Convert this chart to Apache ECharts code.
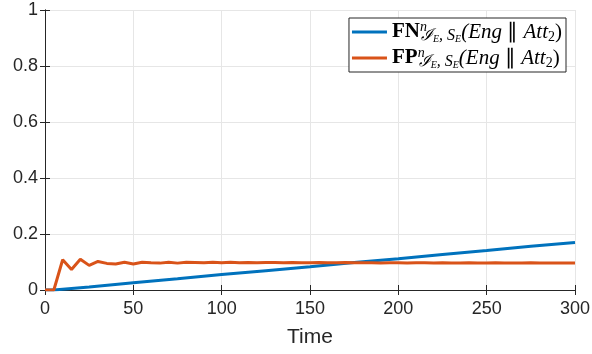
<!DOCTYPE html>
<html>
<head>
<meta charset="utf-8">
<script src="https://cdn.jsdelivr.net/npm/echarts@6/dist/echarts.min.js"></script>
<style>
  html, body { margin: 0; padding: 0; background: #fff; }
  #chart { width: 592px; height: 354px; }
</style>
</head>
<body>
<div id="chart"></div>
<script>
// sample times of the red (FP) curve, every 5 time units
const fpTime = [
  0, 5, 10, 15, 20, 25, 30, 35, 40, 45, 50, 55, 60, 65, 70, 75, 80, 85, 90, 95,
  100, 105, 110, 115, 120, 125, 130, 135, 140, 145, 150, 155, 160, 165, 170, 175,
  180, 185, 190, 195, 200, 205, 210, 215, 220, 225, 230, 235, 240, 245, 250, 255,
  260, 265, 270, 275, 280, 285, 290, 295, 300
];
const fpValues = [
  0, 0, 0.108, 0.073, 0.110, 0.088, 0.102, 0.095, 0.093, 0.099, 0.093, 0.099,
  0.097, 0.096, 0.099, 0.096, 0.099, 0.098, 0.097, 0.099, 0.097, 0.099, 0.097,
  0.098, 0.097, 0.098, 0.098, 0.097, 0.098, 0.097, 0.097, 0.098, 0.097, 0.097,
  0.098, 0.097, 0.097, 0.097, 0.096, 0.097, 0.097, 0.096, 0.097, 0.097, 0.096,
  0.097, 0.096, 0.096, 0.097, 0.096, 0.096, 0.097, 0.096, 0.096, 0.096, 0.097,
  0.096, 0.096, 0.096, 0.096, 0.096
];

// blue (FN) curve, nearly a straight ramp
const fnTime = [0, 5, 25, 50, 75, 100, 125, 150, 175, 200, 225, 250, 275, 300];
const fnValues = [0, 0, 0.011, 0.026, 0.040, 0.055, 0.069, 0.083, 0.098, 0.112, 0.127, 0.141, 0.156, 0.170];

const xTicks = { min: 0, max: 300, interval: 50 };
const yTicks = { min: 0, max: 1, interval: 0.2 };

const axisColor = "#262626";
const gridColor = "#e6e6e6";
const labelFont = "Liberation Sans";
const serif = "Liberation Serif";

const legendRich = {
  b: { fontFamily: serif, fontWeight: "bold", fontSize: 21, color: "#000", lineHeight: 24 },
  sup: { fontFamily: serif, fontStyle: "italic", fontSize: 14, color: "#000", verticalAlign: "top", lineHeight: 24, width: 1 },
  sub: { fontFamily: serif, fontStyle: "italic", fontSize: 16, color: "#000", verticalAlign: "bottom", lineHeight: 21 },
  subsub: { fontFamily: serif, fontStyle: "italic", fontSize: 10, color: "#000", verticalAlign: "bottom", lineHeight: 18 },
  it: { fontFamily: serif, fontStyle: "italic", fontSize: 21, color: "#000", lineHeight: 24 },
  n: { fontFamily: serif, fontSize: 21, color: "#000", lineHeight: 24 },
  s2: { fontFamily: serif, fontSize: 14, color: "#000", verticalAlign: "bottom", lineHeight: 21 }
};

function legendLabel(name) {
  const tail = "{sup|n}{sub|\u2110}{subsub|E}{sub|, S}{subsub|E}{it|(Eng}{n| \u2225 }{it|Att}{s2|2}{n|)}";
  return "{b|" + name + "}" + tail;
}

const chart = echarts.init(document.getElementById("chart"));
chart.setOption({
  animation: false,
  grid: { left: 45, right: 17, top: 10, bottom: 64, outerBoundsMode: "none", containLabel: false },
  legend: {
    data: ["FN", "FP"],
    orient: "vertical",
    right: 26,
    top: 18,
    icon: "rect",
    itemWidth: 35,
    itemHeight: 3,
    itemGap: 2,
    padding: [2, 4, 2, 3],
    borderColor: axisColor,
    borderWidth: 1,
    backgroundColor: "#fff",
    formatter: legendLabel,
    textStyle: { rich: legendRich }
  },
  xAxis: [
    {
      type: "value",
      min: xTicks.min, max: xTicks.max, interval: xTicks.interval,
      name: "Time",
      nameLocation: "middle",
      nameGap: 37,
      nameTextStyle: { fontFamily: labelFont, fontSize: 21, color: axisColor },
      axisLine: { show: true, lineStyle: { color: axisColor, width: 1 } },
      axisTick: { show: true, inside: true, length: 5, lineStyle: { color: axisColor } },
      axisLabel: { fontFamily: labelFont, fontSize: 18, color: axisColor, margin: 10 },
      splitLine: { show: true, lineStyle: { color: gridColor, width: 1 } }
    },
    {
      type: "value", position: "top",
      min: xTicks.min, max: xTicks.max, interval: xTicks.interval,
      axisLine: { show: true, lineStyle: { color: axisColor, width: 1 } },
      axisTick: { show: true, inside: true, length: 5, lineStyle: { color: axisColor } },
      axisLabel: { show: false },
      splitLine: { show: false }
    }
  ],
  yAxis: [
    {
      type: "value",
      min: yTicks.min, max: yTicks.max, interval: yTicks.interval,
      axisLine: { show: true, lineStyle: { color: axisColor, width: 1 } },
      axisTick: { show: true, inside: true, length: 5, lineStyle: { color: axisColor } },
      axisLabel: { fontFamily: labelFont, fontSize: 18, color: axisColor, margin: 7 },
      splitLine: { show: true, lineStyle: { color: gridColor, width: 1 } }
    },
    {
      type: "value", position: "right",
      min: yTicks.min, max: yTicks.max, interval: yTicks.interval,
      axisLine: { show: true, lineStyle: { color: axisColor, width: 1 } },
      axisTick: { show: true, inside: true, length: 5, lineStyle: { color: axisColor } },
      axisLabel: { show: false },
      splitLine: { show: false }
    }
  ],
  series: [
    {
      name: "FN",
      type: "line",
      xAxisIndex: 0, yAxisIndex: 0,
      symbol: "none",
      itemStyle: { color: "#0072BD" },
      lineStyle: { color: "#0072BD", width: 3 },
      data: fnTime.map((t, i) => [t, fnValues[i]])
    },
    {
      name: "FP",
      type: "line",
      xAxisIndex: 0, yAxisIndex: 0,
      symbol: "none",
      itemStyle: { color: "#D95319" },
      lineStyle: { color: "#D95319", width: 3 },
      data: fpTime.map((t, i) => [t, fpValues[i]])
    }
  ]
});
</script>
</body>
</html>
